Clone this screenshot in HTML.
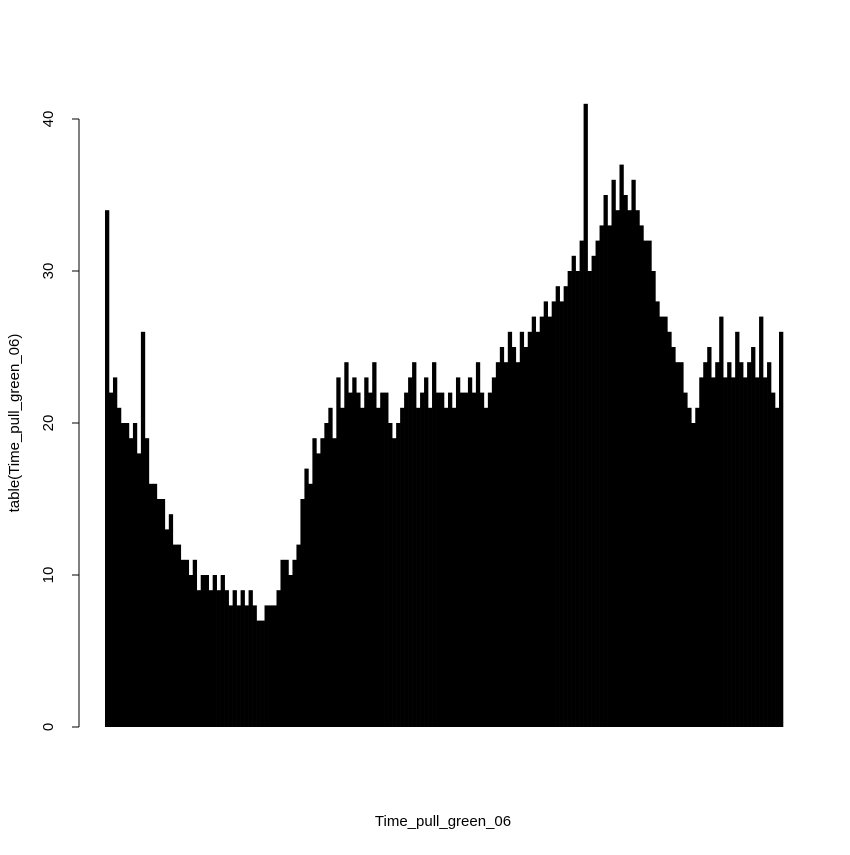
<!DOCTYPE html>
<html><head><meta charset="utf-8"><style>
body{margin:0;background:#fff}
svg text{font-family:"Liberation Sans",Arial,sans-serif;font-size:15px;fill:#000}
</style></head><body>
<svg id="chart" width="850" height="850" xmlns="http://www.w3.org/2000/svg">
<g id="bars"></g>
<g id="yaxis"></g>
<text x="443" y="826" text-anchor="middle">Time_pull_green_06</text>
<text transform="translate(19,423) rotate(-90)" text-anchor="middle">table(Time_pull_green_06)</text>
</svg>
<script>
const counts = [34,22,23,21,20,20,19,20,18,26,19,16,16,15,15,13,14,12,12,11,11,10,11,9,10,10,9,10,9,10,9,8,9,8,9,8,9,8,7,7,8,8,8,9,11,11,10,11,12,15,17,16,19,18,19,20,21,19,23,21,24,22,23,22,21,23,22,24,21,22,22,20,19,20,21,22,23,24,21,22,23,21,24,22,22,21,22,21,23,22,22,23,22,24,22,21,22,23,24,25,24,26,25,24,26,25,26,27,26,27,28,27,28,29,28,29,30,31,30,32,41,30,31,32,33,35,33,36,34,37,35,34,36,34,33,32,32,30,28,27,27,26,25,24,24,22,21,20,21,23,24,25,23,24,27,23,24,23,26,24,23,24,25,23,27,23,24,22,21,26];
const yTicks = [0,10,20,30,40];
const x0=105, x1=783, yBase=727, pxPerUnit=15.2;
const yScale = v => yBase - v*pxPerUnit;
const step = (x1-x0)/counts.length;
const xScale = i => x0 + i*step;
const NS="http://www.w3.org/2000/svg";
const bars=document.getElementById('bars');
counts.forEach((v,i)=>{
  const r=document.createElementNS(NS,'rect');
  
  
  r.setAttribute('x',xScale(i)); r.setAttribute('width',step+0.3);
  r.setAttribute('y',yScale(v)); r.setAttribute('height',yBase-yScale(v));
  r.setAttribute('fill','#000');
  bars.appendChild(r);
});
const ya=document.getElementById('yaxis');
const axl=document.createElementNS(NS,'line');


axl.setAttribute('x1',79);axl.setAttribute('x2',79);
axl.setAttribute('y1',yScale(yTicks[yTicks.length-1]));axl.setAttribute('y2',yScale(yTicks[0]));
axl.setAttribute('stroke','#000');
ya.appendChild(axl);
yTicks.forEach(t=>{
  const l=document.createElementNS(NS,'line');
  
  
  l.setAttribute('x1',72);l.setAttribute('x2',79);
  l.setAttribute('y1',yScale(t));l.setAttribute('y2',yScale(t));
  l.setAttribute('stroke','#000');
  ya.appendChild(l);
  const tx=document.createElementNS(NS,'text');
  
  
  tx.setAttribute('transform','translate(53,'+yScale(t)+') rotate(-90)');
  tx.setAttribute('text-anchor','middle');
  tx.textContent=t;
  ya.appendChild(tx);
});
</script>
</body></html>
